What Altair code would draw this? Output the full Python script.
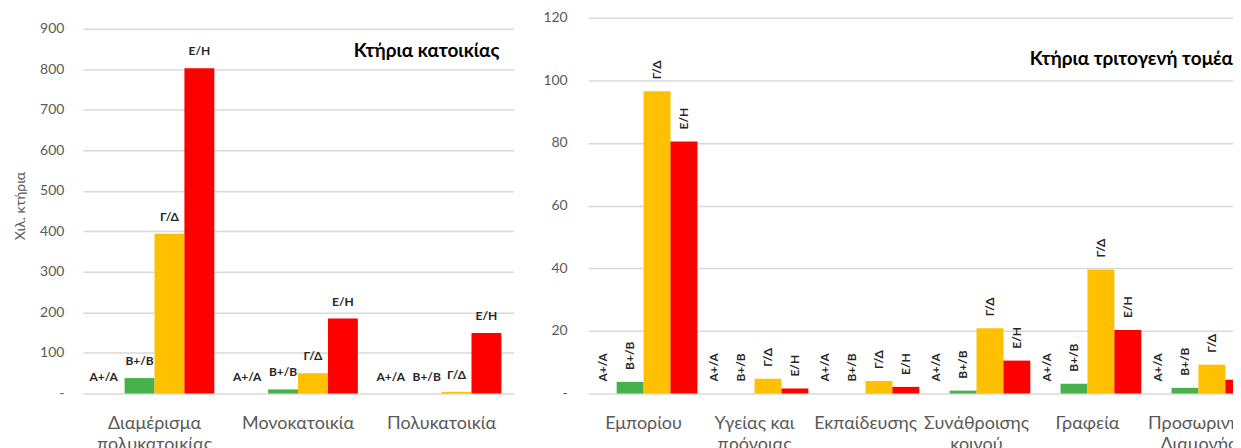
import altair as alt
import pandas as pd

FONT = "Lato"

series = ["Α+/Α", "Β+/Β", "Γ/Δ", "Ε/Η"]
series_colors = ["#00A651", "#46B04A", "#FFC000", "#FF0000"]

# Left panel: residential buildings (thousands)
res_categories = ["Διαμέρισμα\nπολυκατοικίας", "Μονοκατοικία", "Πολυκατοικία"]
res_AA = [0, 0, 0]
res_BB = [38, 10, 0]
res_GD = [394, 50, 4]
res_EH = [802, 185, 149]
res_ticks = [0, 100, 200, 300, 400, 500, 600, 700, 800, 900]

# Right panel: tertiary sector buildings (thousands)
ter_categories = ["Εμπορίου", "Υγείας και\nπρόνοιας", "Εκπαίδευσης",
                  "Συνάθροισης\nκοινού", "Γραφεία", "Προσωρινής\nΔιαμονής"]
ter_AA = [0, 0, 0, 0, 0, 0]
ter_BB = [3.7, 0, 0, 0.9, 3.1, 1.8]
ter_GD = [96.5, 4.7, 4.0, 20.8, 39.6, 9.2]
ter_EH = [80.5, 1.6, 2.1, 10.5, 20.3, 4.4]
ter_ticks = [0, 20, 40, 60, 80, 100, 120]


def make_df(cats, vals):
    rows = []
    for ci, c in enumerate(cats):
        for si, s in enumerate(series):
            rows.append({"cat": c, "series": s, "value": vals[si][ci]})
    return pd.DataFrame(rows)


df_res = make_df(res_categories, [res_AA, res_BB, res_GD, res_EH])
df_ter = make_df(ter_categories, [ter_AA, ter_BB, ter_GD, ter_EH])

color_scale = alt.Scale(domain=series, range=series_colors)
zero_dash = "datum.value == 0 ? '-\u00a0\u00a0\u00a0' : datum.label"


def x_enc(cats, pi, po):
    return alt.X(
        "cat:N", sort=cats, title=None,
        scale=alt.Scale(paddingInner=pi, paddingOuter=po),
        axis=alt.Axis(labelAngle=0, labelExpr="split(datum.label, '\\n')",
                      labelPadding=21, ticks=False, domain=False,
                      labelFontSize=18, labelColor="#595959", labelFont=FONT,
                      labelLineHeight=21, labelOverlap=False),
    )


def y_enc(domain, ticks, title, pad):
    kw = dict(values=ticks, labelExpr=zero_dash, grid=True, gridColor="#D9D9D9",
              gridWidth=1.5, ticks=False, domain=False, labelFontSize=14,
              labelColor="#595959", labelFont=FONT, labelPadding=pad)
    if title:
        kw.update(title=title, titleFont=FONT, titleFontSize=14,
                  titleFontWeight="normal", titleColor="#595959", titlePadding=12)
    else:
        kw.update(title=None)
    return alt.Y("value:Q", scale=alt.Scale(domain=domain, nice=False),
                 axis=alt.Axis(**kw))


xo = alt.XOffset("series:N", sort=series, scale=alt.Scale(paddingInner=0, paddingOuter=0))
lowest = series[0]

# ---- left panel
xl = x_enc(res_categories, 0.1667, 0.0833)
yl = y_enc([0, 927], res_ticks, "Χιλ. κτήρια", 19)
bars_l = alt.Chart(df_res).mark_bar().encode(
    x=xl, xOffset=xo, y=yl,
    color=alt.Color("series:N", scale=color_scale, legend=None),
)
text_l = alt.Chart(df_res).transform_filter(
    alt.datum.series != lowest
).mark_text(
    font=FONT, fontWeight="bold", fontSize=12, baseline="middle", dy=-17,
    color="#262626",
).encode(x=xl, xOffset=xo, y=yl, text="series:N")
text_l0 = alt.Chart(df_res).transform_filter(
    alt.datum.series == lowest
).mark_text(
    font=FONT, fontWeight="bold", fontSize=12, baseline="middle", dy=-17, dx=-6,
    color="#262626",
).encode(x=xl, xOffset=xo, y=yl, text="series:N")
title_l = alt.Chart(pd.DataFrame({"t": ["Κτήρια κατοικίας"]})).mark_text(
    font=FONT, fontWeight="bold", fontSize=19, align="right", baseline="middle",
    color="#000000",
).encode(x=alt.value(418), y=alt.value(33), text="t:N")
left = alt.layer(bars_l, text_l, text_l0, title_l).properties(width=432, height=377)

# ---- right panel
xr = x_enc(ter_categories, 0.03, 0.015)
yr = y_enc([0, 120], ter_ticks, None, 21)
bars_r = alt.Chart(df_ter).mark_bar().encode(
    x=xr, xOffset=xo, y=yr,
    color=alt.Color("series:N", scale=color_scale, legend=None),
)
text_r = alt.Chart(df_ter).mark_text(
    font=FONT, fontWeight="bold", fontSize=12, baseline="middle", align="left",
    angle=270, dx=12, color="#262626",
).encode(x=xr, xOffset=xo, y=yr, text="series:N")
title_r = alt.Chart(pd.DataFrame({"t": ["Κτήρια τριτογενή τομέα"]})).mark_text(
    font=FONT, fontWeight="bold", fontSize=19, align="right", baseline="middle",
    color="#000000",
).encode(x=alt.value(647), y=alt.value(41), text="t:N")
right = alt.layer(bars_r, text_r, title_r).properties(width=668, height=377)

chart = alt.hconcat(left, right, spacing=29).properties(
    padding={"left": 5, "top": 2, "right": -21, "bottom": 0}
).configure_view(stroke=None).resolve_scale(x="independent", y="independent", xOffset="independent")

chart.save("out.html", embed_options={"renderer": "svg", "actions": False})
